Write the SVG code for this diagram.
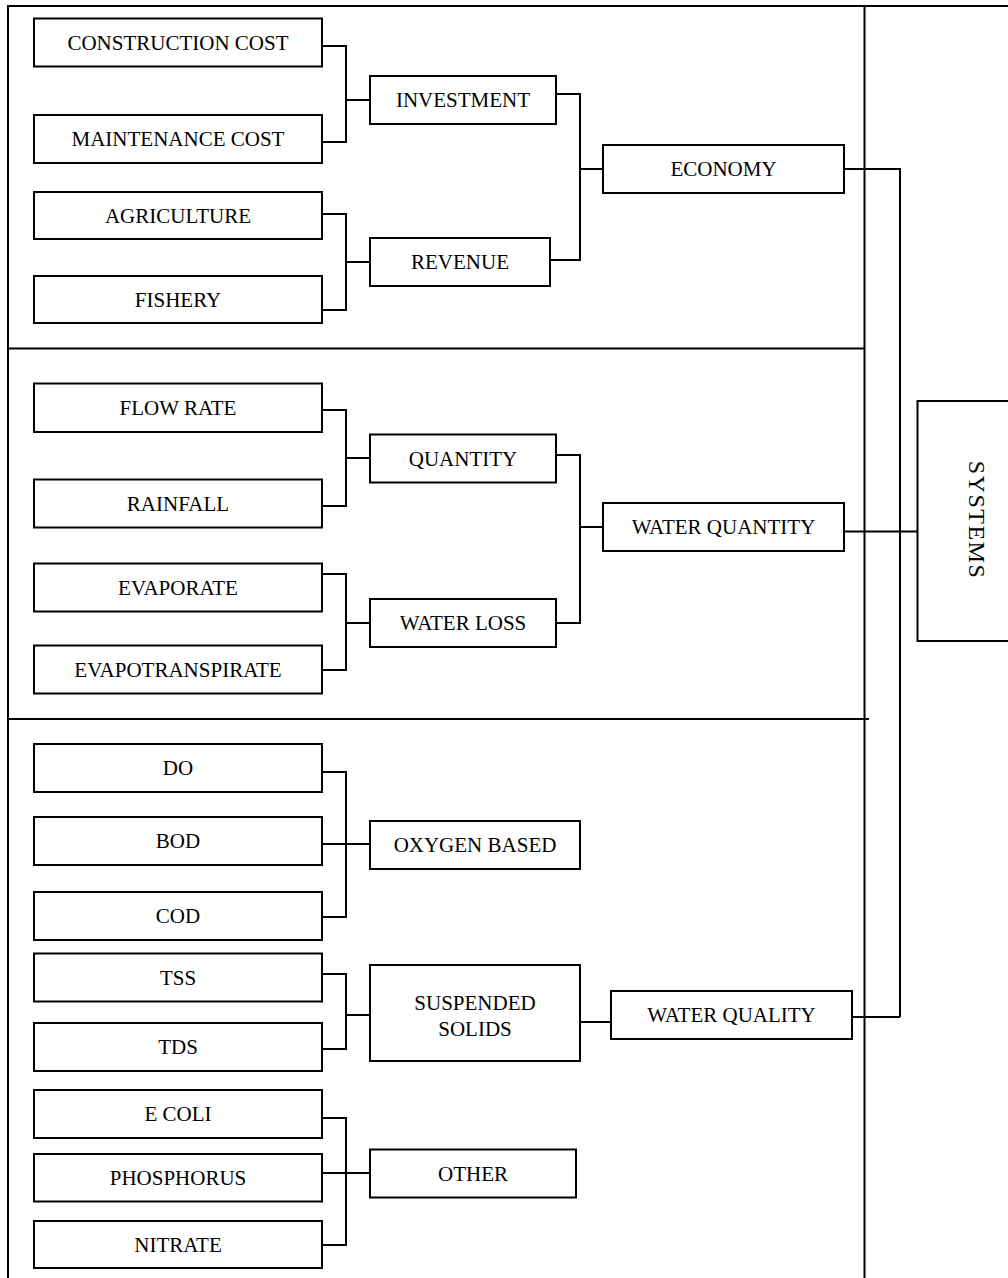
<svg xmlns="http://www.w3.org/2000/svg" width="1008" height="1278" viewBox="0 0 1008 1278">
<style>
.box{fill:#fff;stroke:#000;stroke-width:2}
.ln{fill:none;stroke:#000;stroke-width:2}
.fr{fill:none;stroke:#000;stroke-width:2}
text{font-family:"Liberation Serif","Times New Roman",serif;font-size:21px;fill:#000;text-anchor:middle}
</style>
<rect width="1008" height="1278" fill="#fff"/>
<g id="frame">
<path class="fr" d="M8,1278 V6 H1008"/>
<path class="fr" d="M864.5,6 V1278"/>
<path class="fr" d="M8,348.5 H865"/>
<path class="fr" d="M8,719 H869"/>
</g>
<g id="connectors">
<path class="ln" d="M322,46 H346 V142 H322 M346,100 H370"/>
<path class="ln" d="M322,214 H346 V310 H322 M346,262 H370"/>
<path class="ln" d="M556,94 H580 V260 H550 M580,169 H603"/>
<path class="ln" d="M844,169 H901 M900,169 V1017 M852,1017 H900 M844,531.5 H917"/>
<path class="ln" d="M322,410 H346 V506 H322 M346,458 H370"/>
<path class="ln" d="M322,574 H346 V670 H322 M346,623 H370"/>
<path class="ln" d="M556,455 H580 V623 H556 M580,527 H603"/>
<path class="ln" d="M322,772 H346 V917 H322 M322,844 H370"/>
<path class="ln" d="M322,974 H346 V1049 H322 M346,1015 H370"/>
<path class="ln" d="M580,1022 H611"/>
<path class="ln" d="M322,1118 H346 V1245 H322 M322,1173 H370"/>
</g>
<g id="construction-cost"><rect class="box" x="34" y="18.5" width="288" height="48"/><text x="178" y="50">CONSTRUCTION COST</text></g>
<g id="maintenance-cost"><rect class="box" x="34" y="115" width="288" height="48"/><text x="178" y="146">MAINTENANCE COST</text></g>
<g id="agriculture"><rect class="box" x="34" y="192" width="288" height="47"/><text x="178" y="222.5">AGRICULTURE</text></g>
<g id="fishery"><rect class="box" x="34" y="276" width="288" height="47"/><text x="178" y="306.5">FISHERY</text></g>
<g id="investment"><rect class="box" x="370" y="76" width="186" height="48"/><text x="463" y="107">INVESTMENT</text></g>
<g id="revenue"><rect class="box" x="370" y="238" width="180" height="48"/><text x="460" y="269">REVENUE</text></g>
<g id="economy"><rect class="box" x="603" y="145" width="241" height="48"/><text x="723.5" y="176">ECONOMY</text></g>
<g id="flow-rate"><rect class="box" x="34" y="383.5" width="288" height="48.5"/><text x="178" y="415">FLOW RATE</text></g>
<g id="rainfall"><rect class="box" x="34" y="479.5" width="288" height="48"/><text x="178" y="510.5">RAINFALL</text></g>
<g id="quantity"><rect class="box" x="370" y="434.5" width="186" height="48"/><text x="463" y="465.5">QUANTITY</text></g>
<g id="evaporate"><rect class="box" x="34" y="563.5" width="288" height="48"/><text x="178" y="594.5">EVAPORATE</text></g>
<g id="evapotranspirate"><rect class="box" x="34" y="645.5" width="288" height="48"/><text x="178" y="676.5">EVAPOTRANSPIRATE</text></g>
<g id="water-loss"><rect class="box" x="370" y="599" width="186" height="48"/><text x="463" y="630">WATER LOSS</text></g>
<g id="water-quantity"><rect class="box" x="603" y="503" width="241" height="48"/><text x="723.5" y="534">WATER QUANTITY</text></g>
<g id="do"><rect class="box" x="34" y="744" width="288" height="48"/><text x="178" y="775">DO</text></g>
<g id="bod"><rect class="box" x="34" y="817" width="288" height="48"/><text x="178" y="848">BOD</text></g>
<g id="cod"><rect class="box" x="34" y="892" width="288" height="48"/><text x="178" y="923">COD</text></g>
<g id="oxygen-based"><rect class="box" x="370" y="821" width="210" height="48"/><text x="475" y="852">OXYGEN BASED</text></g>
<g id="tss"><rect class="box" x="34" y="953.5" width="288" height="48"/><text x="178" y="984.5">TSS</text></g>
<g id="tds"><rect class="box" x="34" y="1023" width="288" height="48"/><text x="178" y="1054">TDS</text></g>
<g id="suspended-solids"><rect class="box" x="370" y="965" width="210" height="96"/><text x="475" y="1009.5">SUSPENDED</text><text x="475" y="1036">SOLIDS</text></g>
<g id="water-quality"><rect class="box" x="611" y="991" width="241" height="48"/><text x="731.5" y="1022">WATER QUALITY</text></g>
<g id="e-coli"><rect class="box" x="34" y="1090" width="288" height="48"/><text x="178" y="1121">E COLI</text></g>
<g id="phosphorus"><rect class="box" x="34" y="1154" width="288" height="47.5"/><text x="178" y="1185">PHOSPHORUS</text></g>
<g id="nitrate"><rect class="box" x="34" y="1221" width="288" height="47"/><text x="178" y="1251.5">NITRATE</text></g>
<g id="other"><rect class="box" x="370" y="1149.5" width="206" height="48"/><text x="473" y="1180.5">OTHER</text></g>
<g id="systems"><rect class="box" x="917.5" y="401" width="100" height="240"/><text transform="translate(977,520) rotate(90)" x="0" y="8" style="font-size:24px;letter-spacing:1.5px">SYSTEMS</text></g>
</svg>
